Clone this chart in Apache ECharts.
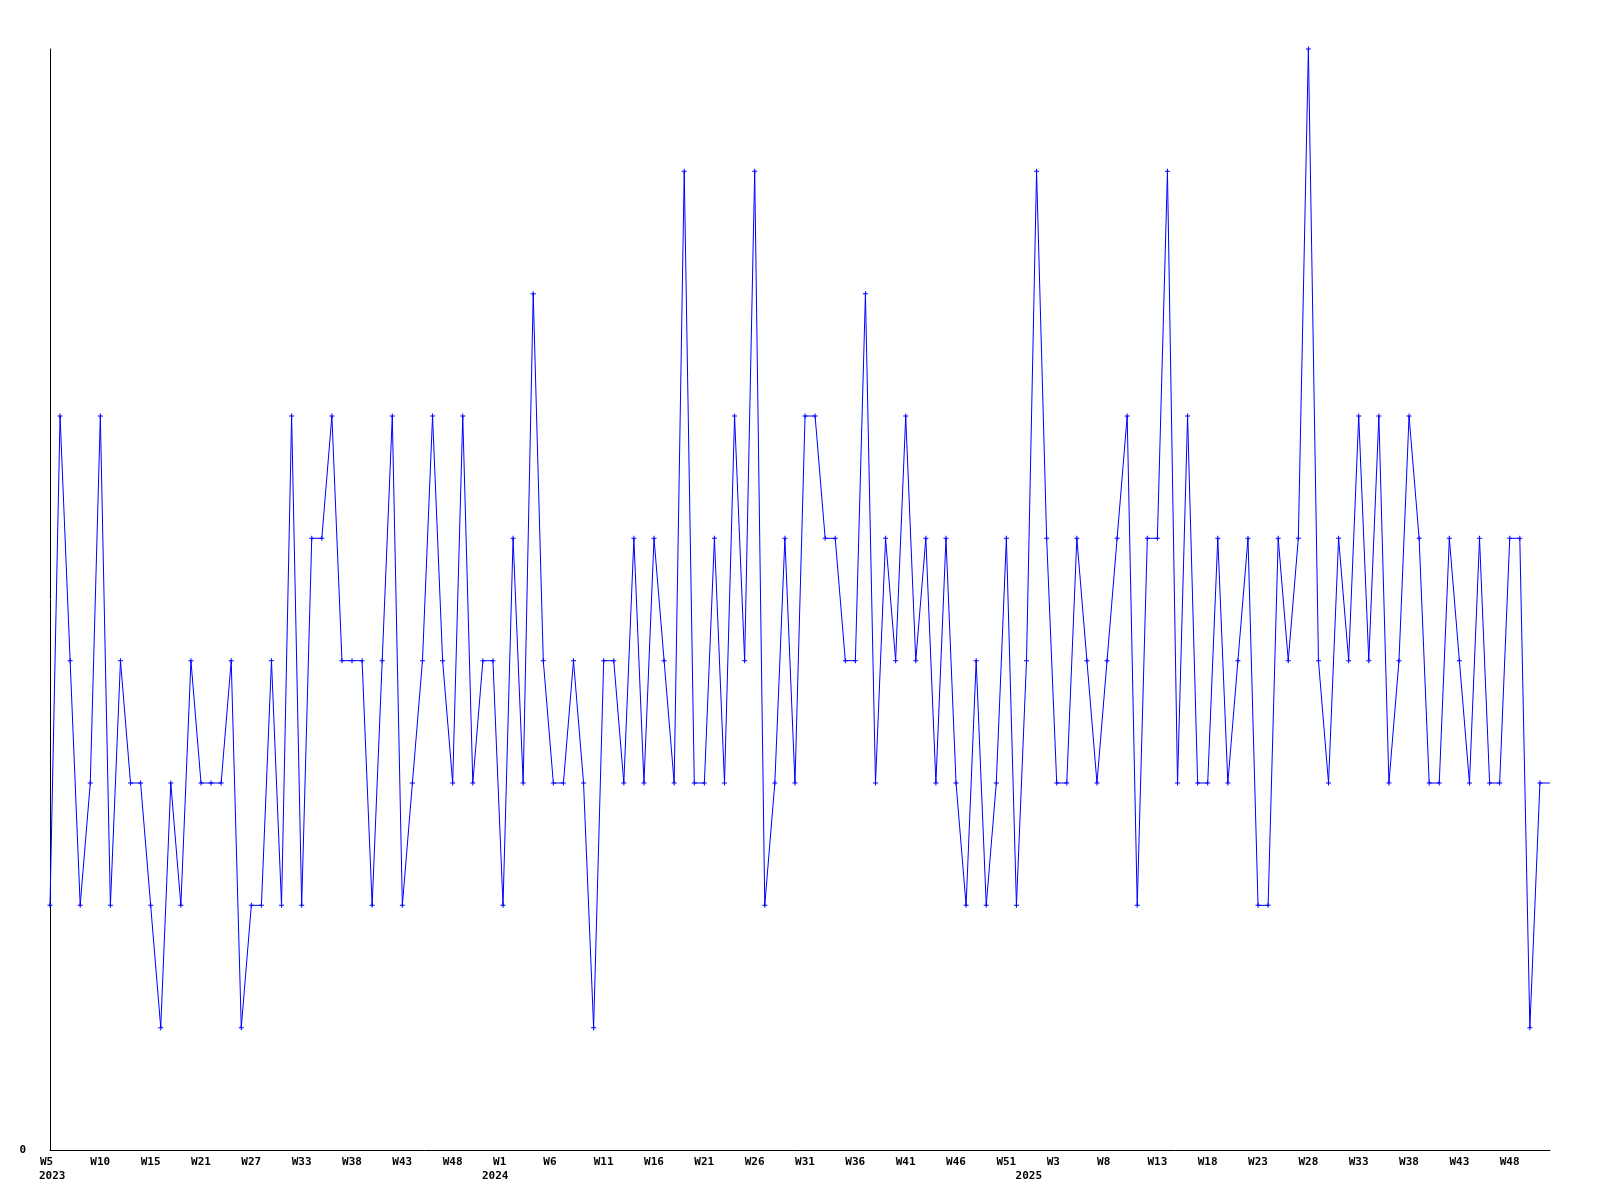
<!DOCTYPE html>
<html>
<head>
<meta charset="utf-8">
<script src="https://cdn.jsdelivr.net/npm/echarts@6/dist/echarts.min.js"></script>
<style>
html,body{margin:0;padding:0;background:#fff;}
#chart{width:1600px;height:1200px;}
</style>
</head>
<body>
<div id="chart"></div>
<script>
// Weekly values, 2023 W5 onward (last entry is the trailing flat end of the line)
const values = [
  2,6,4,2,3,6,2,4,3,3,
  2,1,3,2,4,3,3,3,4,1,
  2,2,4,2,6,2,5,5,6,4,
  4,4,2,4,6,2,3,4,6,4,
  3,6,3,4,4,2,5,3,7,4,
  3,3,4,3,1,4,4,3,5,3,
  5,4,3,8,3,3,5,3,6,4,
  8,2,3,5,3,6,6,5,5,4,
  4,7,3,5,4,6,4,5,3,5,
  3,2,4,2,3,5,2,4,8,5,
  3,3,5,4,3,4,5,6,2,5,
  5,8,3,6,3,3,5,3,4,5,
  2,2,5,4,5,9,4,3,5,4,
  6,4,6,3,4,6,5,3,3,5,
  4,3,5,3,3,5,5,1,3,3
];

// Week tick labels, shown on every 5th category
const weekTickLabels = [
  "W5","W10","W15","W21","W27","W33","W38","W43","W48",
  "W1","W6","W11","W16","W21","W26","W31","W36","W41","W46","W51",
  "W3","W8","W13","W18","W23","W28","W33","W38","W43","W48"
];
const weekTickStep = 5;

// Year labels and the category where each year's label sits
const yearLabels = ["2023","2024","2025"];
const yearLabelIndex = [0,44,97];

const categories = values.map((_, i) => String(i));
const weekLabelAt = {};
weekTickLabels.forEach((t, k) => { weekLabelAt[k * weekTickStep] = t; });
const yearLabelAt = {};
yearLabels.forEach((t, k) => { yearLabelAt[yearLabelIndex[k]] = t; });

const font = {
  fontFamily: '"DejaVu Sans Mono", "Liberation Mono", monospace',
  fontWeight: 'bold',
  fontSize: 11,
  color: '#000'
};

const chart = echarts.init(document.getElementById('chart'), null, {renderer: 'canvas'});
chart.setOption({
  animation: false,
  backgroundColor: '#ffffff',
  grid: {left: 50, right: 50, top: 49, bottom: 50, containLabel: false},
  xAxis: [
    {
      type: 'category',
      data: categories,
      boundaryGap: false,
      axisLine: {show: true, lineStyle: {color: '#000', width: 1}},
      axisTick: {show: false},
      splitLine: {show: false},
      axisLabel: Object.assign({
        interval: 0,
        margin: 7,
        align: 'left',
        padding: [0, 0, 0, -10],
        formatter: (v, i) => weekLabelAt[i] || ''
      }, font)
    },
    {
      type: 'category',
      data: categories,
      boundaryGap: false,
      position: 'bottom',
      axisLine: {show: false},
      axisTick: {show: false},
      splitLine: {show: false},
      axisLabel: Object.assign({
        interval: 0,
        margin: 21,
        align: 'left',
        padding: [0, 0, 0, -11],
        formatter: (v, i) => yearLabelAt[i] || ''
      }, font)
    }
  ],
  yAxis: {
    type: 'value',
    min: 0,
    max: 9,
    interval: 9,
    axisLine: {show: true, lineStyle: {color: '#000', width: 1}},
    axisTick: {show: false},
    splitLine: {show: false},
    axisLabel: Object.assign({
      margin: 24,
      formatter: v => (v === 0 ? '0' : '')
    }, font)
  },
  series: [{
    type: 'line',
    xAxisIndex: 0,
    data: values,
    clip: false,
    symbol: 'path://M2,0 H3 V2 H5 V3 H3 V5 H2 V3 H0 V2 H2 Z',
    symbolSize: (v, p) => (p.dataIndex === values.length - 1 ? 0 : 5),
    showAllSymbol: true,
    itemStyle: {color: '#0000ff'},
    lineStyle: {color: '#0000ff', width: 1},
    emphasis: {disabled: true}
  }]
});
</script>
</body>
</html>
